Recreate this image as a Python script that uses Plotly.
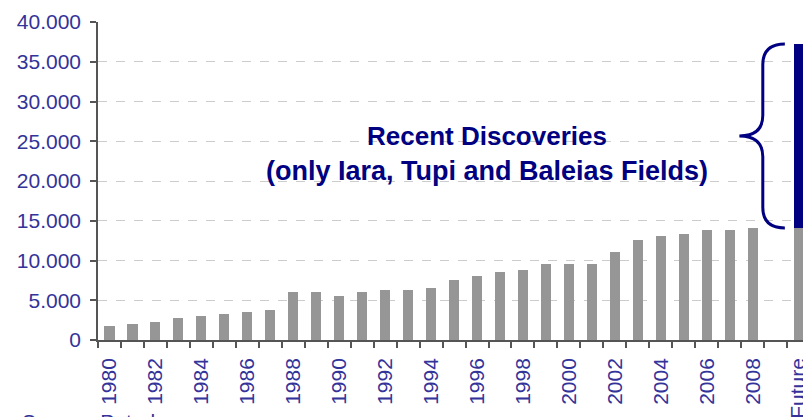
import plotly.graph_objects as go

# ---------------------------------------------------------------------------
# Data (proven reserves, million boe)
# ---------------------------------------------------------------------------
categories = [
    "1980", "1981", "1982", "1983", "1984", "1985", "1986", "1987", "1988", "1989",
    "1990", "1991", "1992", "1993", "1994", "1995", "1996", "1997", "1998", "1999",
    "2000", "2001", "2002", "2003", "2004", "2005", "2006", "2007", "2008", "", "Future",
]
reserves = [
    1760, 2010, 2260, 2770, 3020, 3270, 3520, 3770, 6040, 6040,
    5530, 6040, 6290, 6290, 6540, 7550, 8050, 8550, 8800, 9560,
    9560, 9560, 11070, 12580, 13080, 13330, 13840, 13840, 14090, None, 14090,
]
recent_discoveries = [None] * 30 + [23140]
y_ticks = [0, 5000, 10000, 15000, 20000, 25000, 30000, 35000, 40000]

GREY = "#969696"
NAVY = "#000080"
LABEL = "#333399"
AXIS = "#555555"
FONT = "Arial, Liberation Sans, sans-serif"

x_pos = list(range(len(categories)))

fig = go.Figure()
fig.add_trace(go.Bar(x=x_pos, y=reserves, marker_color=GREY, width=0.44,
                     marker_line_width=0, name="Reserves"))
fig.add_trace(go.Bar(x=x_pos, y=recent_discoveries, marker_color=NAVY, width=0.44,
                     marker_line_width=0, name="Recent Discoveries"))

# brace next to the "Future" bar, spanning the recent discoveries block
fut = len(categories) - 1
lo = reserves[fut]
hi = lo + recent_discoveries[fut]
mid = (lo + hi) / 2
r = 2600
xa, xs, xt = fut - 0.6, fut - 1.56, fut - 2.58
brace = (
    f"M {xa},{hi} Q {xs},{hi} {xs},{hi - r} "
    f"L {xs},{mid + r} Q {xs},{mid} {xt},{mid} "
    f"Q {xs},{mid} {xs},{mid - r} "
    f"L {xs},{lo + r} Q {xs},{lo} {xa},{lo}"
)
fig.add_shape(type="path", path=brace, xref="x", yref="y",
              line=dict(color=NAVY, width=3))

fig.add_annotation(x=16.44, y=25600, xref="x", yref="y", text="<b>Recent Discoveries</b>",
                   showarrow=False, font=dict(family=FONT, size=26, color=NAVY))
fig.add_annotation(x=16.44, y=21200, xref="x", yref="y",
                   text="<b>(only Iara, Tupi and Baleias Fields)</b>",
                   showarrow=False, font=dict(family=FONT, size=27, color=NAVY))
fig.add_annotation(x=-0.1106, y=-0.214, xref="paper", yref="paper", text="Source: Petrobras",
                   showarrow=False, xanchor="left", yanchor="top",
                   font=dict(family=FONT, size=21, color=LABEL))

fig.update_layout(
    barmode="stack",
    width=803,
    height=417,
    margin=dict(l=98, r=0, t=22, b=77, autoexpand=False),
    plot_bgcolor="white",
    paper_bgcolor="white",
    showlegend=False,
    separators=",.",
    font=dict(family=FONT, size=21, color=LABEL),
)
fig.update_xaxes(
    range=[-0.5, 30.19],
    automargin=False,
    tickmode="array",
    tickvals=x_pos[::2],
    ticktext=categories[::2],
    tickangle=-90,
    ticks="",
    ticklabelstandoff=8,
    ticklabeloverflow="allow",
    showline=True,
    linecolor=AXIS,
    linewidth=1.5,
    showgrid=False,
    zeroline=False,
    minor=dict(ticks="outside", tickvals=[p - 0.5 for p in x_pos] + [fut + 0.5],
               ticklen=6, tickwidth=1.5, tickcolor=AXIS),
)
fig.update_yaxes(
    range=[0, 40000],
    automargin=False,
    tickmode="array",
    tickvals=y_ticks,
    tickformat=",.0f",
    ticks="outside",
    ticklen=6,
    tickwidth=1.5,
    tickcolor=AXIS,
    ticklabelstandoff=5,
    showline=True,
    linecolor=AXIS,
    linewidth=1.5,
    showgrid=True,
    gridcolor="#cccccc",
    griddash="dash",
    zeroline=False,
)

# drop the browser's default 8px body margin so the figure fills the window exactly
fig.write_html("out.html", config={"displayModeBar": False},
               post_script="document.body.style.margin = '0';")
